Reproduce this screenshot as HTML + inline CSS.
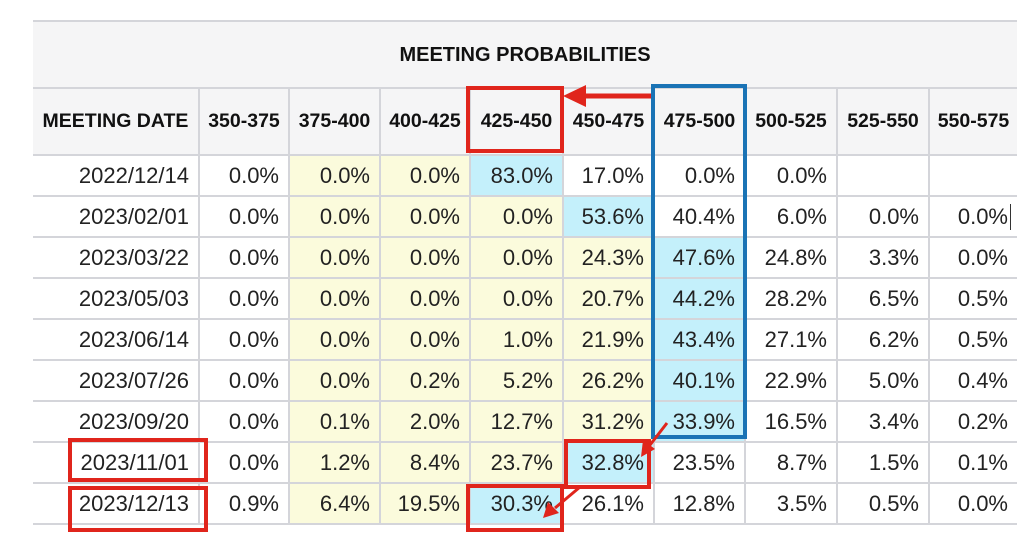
<!DOCTYPE html>
<html><head><style>
body{margin:0;width:1024px;height:553px;background:#fff;position:relative;overflow:hidden;font-family:"Liberation Sans",Arial,sans-serif;color:#222}
table{position:absolute;left:33px;top:20px;border-collapse:collapse;table-layout:fixed}
tr{height:41px}
tr.h{height:67px}
td,th{border:2px solid #d4d5da;padding:0 9px 0 0;text-align:right;font-size:22px;white-space:nowrap;overflow:visible;line-height:1}
th{font-size:19.5px;font-weight:bold;text-align:center;padding:0;background:#f5f5f6;color:#111}
th.t{font-size:20px;border-left:none;border-right:none;border-top:2px solid #d4d5da}
tr td:first-child,tr th:first-child{border-left:none}
tr td:last-child,tr th:last-child{border-right:none}
.y{background:#fbfbdc}.b{background:#c4f0fb}
.box{position:absolute;box-sizing:border-box}
.r{border:4px solid #e0251c}.bl{border:4px solid #1a73b5}
</style></head><body>
<table>
<colgroup><col style="width:166px"><col style="width:90px"><col style="width:91px"><col style="width:90px"><col style="width:93px"><col style="width:91px"><col style="width:91px"><col style="width:92px"><col style="width:92px"><col style="width:88px"></colgroup>
<tr class="h"><th class="t" colspan="10">MEETING PROBABILITIES</th></tr>
<tr class="h"><th>MEETING DATE</th><th>350-375</th><th>375-400</th><th>400-425</th><th>425-450</th><th>450-475</th><th>475-500</th><th>500-525</th><th>525-550</th><th>550-575</th></tr>
<tr><td>2022/12/14</td><td>0.0%</td><td class="y">0.0%</td><td class="y">0.0%</td><td class="b">83.0%</td><td>17.0%</td><td>0.0%</td><td>0.0%</td><td></td><td></td></tr>
<tr><td>2023/02/01</td><td>0.0%</td><td class="y">0.0%</td><td class="y">0.0%</td><td class="y">0.0%</td><td class="b">53.6%</td><td>40.4%</td><td>6.0%</td><td>0.0%</td><td>0.0%</td></tr>
<tr><td>2023/03/22</td><td>0.0%</td><td class="y">0.0%</td><td class="y">0.0%</td><td class="y">0.0%</td><td class="y">24.3%</td><td class="b">47.6%</td><td>24.8%</td><td>3.3%</td><td>0.0%</td></tr>
<tr><td>2023/05/03</td><td>0.0%</td><td class="y">0.0%</td><td class="y">0.0%</td><td class="y">0.0%</td><td class="y">20.7%</td><td class="b">44.2%</td><td>28.2%</td><td>6.5%</td><td>0.5%</td></tr>
<tr><td>2023/06/14</td><td>0.0%</td><td class="y">0.0%</td><td class="y">0.0%</td><td class="y">1.0%</td><td class="y">21.9%</td><td class="b">43.4%</td><td>27.1%</td><td>6.2%</td><td>0.5%</td></tr>
<tr><td>2023/07/26</td><td>0.0%</td><td class="y">0.0%</td><td class="y">0.2%</td><td class="y">5.2%</td><td class="y">26.2%</td><td class="b">40.1%</td><td>22.9%</td><td>5.0%</td><td>0.4%</td></tr>
<tr><td>2023/09/20</td><td>0.0%</td><td class="y">0.1%</td><td class="y">2.0%</td><td class="y">12.7%</td><td class="y">31.2%</td><td class="b">33.9%</td><td>16.5%</td><td>3.4%</td><td>0.2%</td></tr>
<tr><td>2023/11/01</td><td>0.0%</td><td class="y">1.2%</td><td class="y">8.4%</td><td class="y">23.7%</td><td class="b">32.8%</td><td>23.5%</td><td>8.7%</td><td>1.5%</td><td>0.1%</td></tr>
<tr><td>2023/12/13</td><td>0.9%</td><td class="y">6.4%</td><td class="y">19.5%</td><td class="b">30.3%</td><td>26.1%</td><td>12.8%</td><td>3.5%</td><td>0.5%</td><td>0.0%</td></tr>
</table>
<div style="position:absolute;left:1010px;top:204px;width:1px;height:26px;background:#333"></div>
<div class="box r" style="left:466px;top:86px;width:98px;height:67px"></div>
<div class="box bl" style="left:651px;top:84px;width:96px;height:355px"></div>
<div class="box r" style="left:68px;top:438px;width:140px;height:44px"></div>
<div class="box r" style="left:68px;top:486px;width:140px;height:46px"></div>
<div class="box r" style="left:564px;top:439px;width:87px;height:50px"></div>
<div class="box r" style="left:466px;top:484px;width:98px;height:48px"></div>
<svg style="position:absolute;left:0;top:0" width="1024" height="553">
<g fill="#e0251c" stroke="#e0251c">
<line x1="651" y1="96" x2="580" y2="96" stroke-width="5"/>
<polygon points="563,96 586,85 586,107" stroke="none"/>
<line x1="667" y1="423" x2="650" y2="445" stroke-width="3"/>
<polygon points="641,457 643,440 655,449" stroke="none"/>
<line x1="580" y1="487" x2="555" y2="508" stroke-width="3"/>
<polygon points="543,518 548,502 559,513" stroke="none"/>
</g></svg>
</body></html>
